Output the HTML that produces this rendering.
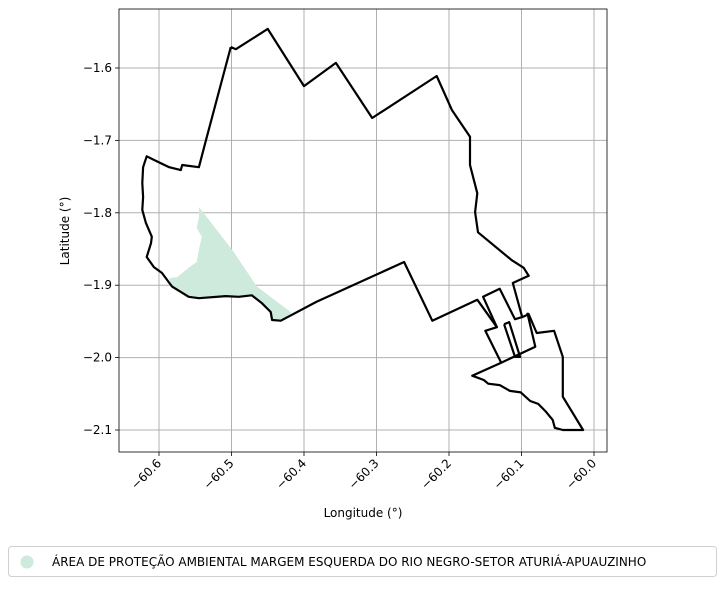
<!DOCTYPE html>
<html><head><meta charset="utf-8"><style>
body{margin:0;background:#fff;width:724px;height:584px;overflow:hidden;font-family:"Liberation Sans","DejaVu Sans",sans-serif}
svg text{font-family:"DejaVu Sans","Liberation Sans",sans-serif;font-size:12px;fill:#000}
</style></head><body>
<svg id="c" width="724" height="584"></svg>
<script>
const xTicks=[-60.6,-60.5,-60.4,-60.3,-60.2,-60.1,-60.0];
const yTicks=[-1.6,-1.7,-1.8,-1.9,-2.0,-2.1];
const xTickLabels=["\u221260.6","\u221260.5","\u221260.4","\u221260.3","\u221260.2","\u221260.1","\u221260.0"];
const yTickLabels=["\u22121.6","\u22121.7","\u22121.8","\u22121.9","\u22122.0","\u22122.1"];
const outerLon=[-60.501,-60.494,-60.450,-60.400,-60.356,-60.306,-60.217,-60.196,-60.171,-60.171,-60.161,-60.164,-60.160,-60.114,-60.097,-60.090,-60.112,-60.099,-60.090,-60.079,-60.055,-60.043,-60.043,-60.015,-60.043,-60.054,-60.057,-60.066,-60.077,-60.088,-60.101,-60.116,-60.130,-60.146,-60.152,-60.168,-60.128,-60.150,-60.134,-60.161,-60.223,-60.262,-60.383,-60.432,-60.444,-60.446,-60.458,-60.472,-60.490,-60.508,-60.545,-60.559,-60.582,-60.596,-60.607,-60.617,-60.611,-60.610,-60.618,-60.623,-60.622,-60.623,-60.622,-60.617,-60.607,-60.586,-60.570,-60.568,-60.545,-60.535,-60.501];
const outerLat=[-1.571,-1.574,-1.546,-1.625,-1.593,-1.669,-1.611,-1.658,-1.695,-1.734,-1.773,-1.799,-1.827,-1.865,-1.876,-1.887,-1.897,-1.944,-1.940,-1.966,-1.963,-1.999,-2.054,-2.100,-2.100,-2.097,-2.086,-2.075,-2.064,-2.060,-2.048,-2.046,-2.038,-2.036,-2.031,-2.025,-2.007,-1.963,-1.958,-1.920,-1.949,-1.868,-1.923,-1.949,-1.948,-1.937,-1.925,-1.914,-1.916,-1.915,-1.918,-1.916,-1.902,-1.883,-1.875,-1.861,-1.842,-1.833,-1.814,-1.796,-1.778,-1.759,-1.737,-1.722,-1.727,-1.737,-1.741,-1.734,-1.737,-1.699,-1.571];
const strip1Lon=[-60.134,-60.153,-60.130,-60.109,-60.099];
const strip1Lat=[-1.958,-1.916,-1.905,-1.947,-1.944];
const strip2Lon=[-60.124,-60.117,-60.102,-60.109,-60.124];
const strip2Lat=[-1.954,-1.951,-1.999,-1.999,-1.954];
const strip3Lon=[-60.128,-60.081,-60.092];
const strip3Lat=[-2.007,-1.985,-1.938];
const areaLon=[-60.545,-60.517,-60.497,-60.465,-60.417,-60.430,-60.444,-60.446,-60.458,-60.472,-60.490,-60.508,-60.545,-60.559,-60.582,-60.586,-60.575,-60.559,-60.548,-60.545,-60.541,-60.548,-60.545];
const areaLat=[-1.792,-1.828,-1.854,-1.902,-1.938,-1.948,-1.948,-1.937,-1.925,-1.914,-1.916,-1.915,-1.918,-1.916,-1.902,-1.890,-1.889,-1.876,-1.868,-1.851,-1.833,-1.821,-1.806];

const NS="http://www.w3.org/2000/svg";
const svg=document.getElementById('c');
const L=119,T=9,R=607,B=452;
const sx=v=>159+(v+60.6)*725;
const sy=v=>68-(v+1.6)*724;
function mk(t,a,p){const e=document.createElementNS(NS,t);for(const k in a)e.setAttribute(k,a[k]);(p||svg).appendChild(e);return e;}
function pts(lo,la){return lo.map((v,i)=>sx(v).toFixed(1)+','+sy(la[i]).toFixed(1)).join(' ');}

// grid + ticks
xTicks.forEach((v,i)=>{
  const g=mk('line',{x1:sx(v),x2:sx(v),y1:T,y2:B,stroke:'#b0b0b0','stroke-width':1});
  
  
  mk('line',{x1:sx(v),x2:sx(v),y1:B,y2:B+4,stroke:'#000','stroke-width':0.8});
  const t=mk('text',{x:sx(v)+3,y:B+12,'text-anchor':'end',transform:`rotate(-45 ${sx(v)+3} ${B+12})`});
  t.textContent=xTickLabels[i];
  
  
});
yTicks.forEach((v,i)=>{
  const g=mk('line',{x1:L,x2:R,y1:sy(v),y2:sy(v),stroke:'#b0b0b0','stroke-width':1});
  
  
  mk('line',{x1:L-4,x2:L,y1:sy(v),y2:sy(v),stroke:'#000','stroke-width':0.8});
  const t=mk('text',{x:L-7,y:sy(v)+4,'text-anchor':'end'});
  t.textContent=yTickLabels[i];
  
  
});
// area
const a=mk('polygon',{points:pts(areaLon,areaLat),fill:'#cdeadc',stroke:'none'});


// outlines
const o=mk('polyline',{points:pts(outerLon,outerLat),fill:'none',stroke:'#000','stroke-width':2.2,'stroke-linejoin':'round'});


[[strip1Lon,strip1Lat],[strip2Lon,strip2Lat],[strip3Lon,strip3Lat]].forEach(s=>{
  const p=mk('polyline',{points:pts(s[0],s[1]),fill:'none',stroke:'#000','stroke-width':2.2,'stroke-linejoin':'round'});
  
  
});
// frame
const f=mk('rect',{x:L,y:T,width:R-L,height:B-T,fill:'none',stroke:'#000','stroke-width':0.8});


const xl=mk('text',{x:363,y:517,'text-anchor':'middle'});xl.textContent='Longitude (°)';


const yl=mk('text',{x:69,y:231,'text-anchor':'middle',transform:'rotate(-90 69 231)'});yl.textContent='Latitude (°)';


// legend
const lg=mk('g',{});


mk('rect',{x:8.5,y:546.5,width:708,height:30,rx:3,fill:'#fff',stroke:'#d0d0d0'},lg);
mk('circle',{cx:27,cy:562,r:6.5,fill:'#cdeadc'},lg);
const lt=mk('text',{x:52,y:566},lg);lt.textContent='ÁREA DE PROTEÇÃO AMBIENTAL MARGEM ESQUERDA DO RIO NEGRO-SETOR ATURIÁ-APUAUZINHO';


</script>
</body></html>
